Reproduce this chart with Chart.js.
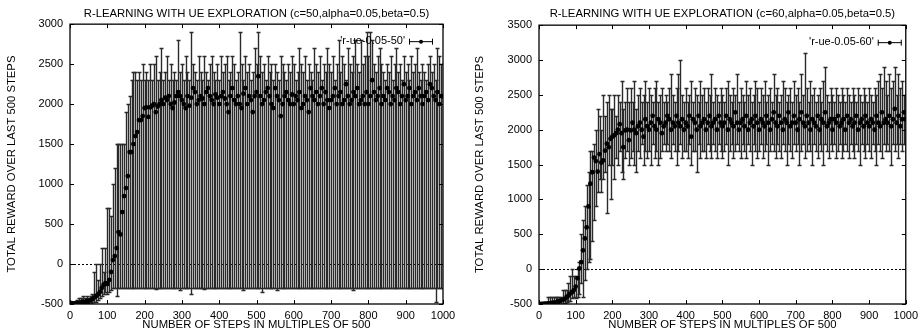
<!DOCTYPE html>
<html><head><meta charset="utf-8">
<script src="https://cdn.jsdelivr.net/npm/chart.js@4.4.0/dist/chart.umd.min.js"></script>
<style>
html,body{margin:0;padding:0;background:#fff;}
#wrap{position:relative;width:923px;height:335px;overflow:hidden;}
.c{position:absolute;top:0;height:335px;}
#cl{left:0;width:462px;} #cr{left:462px;width:461px;}
</style></head><body>
<div id="wrap"><div class="c" id="cl"><canvas id="left"></canvas></div><div class="c" id="cr"><canvas id="right"></canvas></div></div>
<script>
// x categories: steps in multiples of 500 (every 5th)
const steps = [];
for (let s = 5; s <= 1000; s += 5) steps.push(s);

const xTicks = [0,100,200,300,400,500,600,700,800,900,1000];
const leftYTicks = [-500,0,500,1000,1500,2000,2500,3000];
const rightYTicks = [-500,0,500,1000,1500,2000,2500,3000,3500];

const leftTitle = "R-LEARNING WITH UE EXPLORATION (c=50,alpha=0.05,beta=0.5)";
const rightTitle = "R-LEARNING WITH UE EXPLORATION (c=60,alpha=0.05,beta=0.5)";
const leftLabel = "'r-ue-0.05-50'";
const rightLabel = "'r-ue-0.05-60'";
const yTitle = "TOTAL REWARD OVER LAST 500 STEPS";
const xTitle = "NUMBER OF STEPS IN MULTIPLES OF 500";

const leftMean = [
-490,-495,-490,-485,-490,-480,-470,-480,-460,-470,-450,-440,
-420,-400,-380,-350,-300,-260,-240,
-250,-200,-100,50,100,200,400,370,650,850,950,1100,1400,1400,1500,1600,1650,1800,1800,1850,
1950,1960,1840,1960,1980,2000,1900,1970,2000,2050,
2000,2080,2050,2100,2000,1950,2020,2100,2150,2100,
2050,2000,1950,2100,1980,2080,2200,2150,2000,2050,
2100,2070,2000,2150,2200,2100,2050,2000,2120,2080,
2000,2100,2150,2070,2000,1900,2100,2200,2050,2000,
2100,2000,1950,2130,2200,2000,2100,2050,1900,2100,
2150,2350,2100,2000,2050,2150,2200,2100,2000,1950,
2200,2100,2050,1850,2000,2100,2150,2050,2000,2120,
2000,2100,2050,2150,1950,2000,2100,2050,1900,2200,
2100,2050,2150,2000,2100,2200,2000,2150,2050,1950,
2050,2100,2200,2000,2100,2150,2000,2050,2250,2100,
2000,2050,2150,2100,2200,2000,2050,2100,2000,2150,
2000,2100,2300,2150,2050,2100,2200,2000,2100,2050,
2200,2150,2000,2100,2050,2200,2150,2000,2100,2250,
2050,2100,2200,2000,2100,2150,2050,2200,2100,2000,
2100,2150,2050,2250,2200,2100,2050,2150,2000,2100,
2100];
const leftLow = [
-500,-500,-500,-500,-500,-500,-500,-500,-500,-500,-500,-500,
-480,-470,-450,-430,-400,-380,-350,
-380,-350,-330,-300,-300,-400,-300,-300,-300,-300,-300,-300,-300,-300,-300,-300,-300,-300,-300,-300,
-300,-300,-300,-300,-300,-300,-310,-300,-300,-300,
-300,-300,-300,-300,-300,-300,-300,-300,-300,-320,
-300,-300,-300,-300,-300,-380,-300,-300,-300,-300,
-300,-300,-310,-300,-300,-300,-300,-300,-300,-300,
-300,-300,-300,-300,-300,-300,-300,-300,-300,-300,
-300,-300,-300,-320,-300,-300,-300,-300,-300,-300,
-300,-300,-300,-350,-300,-300,-300,-300,-300,-300,
-300,-320,-300,-300,-300,-300,-300,-300,-300,-300,
-300,-300,-300,-300,-300,-300,-300,-300,-300,-300,
-300,-300,-300,-300,-300,-300,-300,-300,-300,-300,
-300,-300,-300,-300,-300,-300,-300,-300,-300,-300,
-300,-300,-320,-300,-300,-300,-300,-300,-300,-300,
-300,-300,-300,-300,-300,-300,-300,-300,-300,-300,
-300,-300,-300,-300,-300,-300,-300,-300,-300,-300,
-300,-300,-300,-300,-300,-300,-300,-300,-300,-300,
-300,-300,-300,-300,-300,-300,-470,-300,-300,-300,
-300];
const leftHigh = [
-480,-480,-470,-450,-420,-420,-400,-420,-400,-420,-400,-380,
-100,0,-200,0,200,-100,200,
700,700,600,1000,1200,1500,1500,1500,1500,1500,1900,2000,2100,2300,2400,2400,2300,2400,2300,2500,
2300,2400,2300,2500,2300,2500,2600,2300,2400,2700,
2300,2400,2600,2300,2500,2300,2400,2300,2800,2400,
2500,2300,2600,2400,2300,2900,2500,2400,2300,2600,
2400,2300,2600,2400,2300,2500,2600,2400,2300,2500,
2300,2600,2400,2500,2600,2300,2400,2600,2500,2300,
2400,2900,2500,2300,2600,2400,2500,2300,2400,2700,
2500,2900,2600,2400,2500,2300,2600,2400,2500,2300,
2500,2400,2300,2600,2500,2400,2300,2500,2400,2600,
2500,2300,2400,2700,2500,2400,2600,2300,2500,2400,
2300,2700,2500,2400,2600,2300,2500,2400,2700,2500,
2400,2600,2300,2500,2800,2400,2600,2500,2300,2700,
2500,2400,2600,2800,2500,2400,2800,2500,2600,2900,
2600,2900,2800,2500,2400,2600,2700,2500,2400,2300,
2500,2400,2600,2300,2500,2700,2400,2500,2300,2600,
2400,2500,2300,2600,2400,2500,2700,2400,2300,2500,
2400,2300,2500,2600,2400,2500,2300,2700,2600,2500,
2500];

const rightMean = [
-500,-500,-495,-495,-490,-490,-485,-480,-480,-470,-460,-450,
-440,-430,-400,-380,-350,-330,-300,
-250,-130,10,100,270,440,600,900,1225,1390,1600,1550,1400,1650,1530,1560,1700,1800,1750,1870,
1900,1920,1950,2000,2080,1950,1750,1990,2000,1850,
1990,2100,2000,1950,2050,2100,2000,1900,2150,2050,
2000,2100,2200,2050,2000,2150,2100,1950,2050,2100,
2200,2150,2000,2100,2050,2200,2100,2050,2150,2000,
2100,2050,2200,1900,2150,2100,2000,2200,2050,2100,
2150,2000,2100,2200,2050,2100,2150,2000,2200,2100,
2050,2100,2200,2000,2150,2100,2050,2250,2100,2000,
2100,2150,2050,2200,2000,2100,2150,2050,2200,2100,
2000,2150,2100,2050,2200,2100,2000,2150,2250,2100,
2050,2200,2100,2000,2150,2100,2250,2050,2100,2200,
2100,2000,2150,2250,2100,2050,2200,2100,2000,2150,
2100,2050,2200,2000,2150,2100,2250,2050,2100,2150,
2000,2150,2100,2200,2050,2100,2150,2000,2200,2100,
2150,2050,2100,2200,2000,2100,2150,2050,2200,2100,
2050,2150,2100,2000,2200,2100,2050,2250,2100,2150,
2100,2200,2050,2150,2300,2100,2200,2050,2150,2250,
2150];
const rightLow = [
-500,-500,-500,-500,-500,-500,-500,-500,-500,-500,-500,-500,
-500,-480,-470,-450,-450,-420,-400,
-420,-400,-350,-200,-400,-150,0,100,150,400,700,900,1100,1300,1100,1300,1400,800,1500,1000,
1500,1300,1600,1500,1700,1400,1300,1600,1700,1500,
1600,1700,1500,1400,1700,1600,1800,1500,1700,1600,
1700,1500,1800,1600,1700,1500,1600,1700,1800,1700,
1800,1700,1600,1800,1700,1500,1700,1800,1600,1700,
1700,1600,1800,1500,1700,1700,1400,1800,1600,1700,
1700,1600,1800,1700,1600,1800,1700,1600,1800,1700,
1600,1700,1800,1500,1700,1800,1600,1700,1800,1700,
1600,1800,1700,1600,1800,1700,1500,1800,1700,1600,
1700,1800,1600,1700,1800,1500,1700,1800,1700,1600,
1800,1700,1600,1800,1700,1500,1800,1700,1600,1800,
1700,1800,1500,1700,1800,1600,1700,1800,1700,1500,
1800,1700,1600,1800,1700,1500,1800,1700,1600,1800,
1700,1800,1600,1700,1800,1600,1700,1800,1700,1600,
1800,1700,1600,1800,1700,1500,1800,1700,1600,1800,
1700,1600,1800,1700,1500,1800,1700,1600,1800,1700,
1800,1700,1500,1800,1700,1800,1600,1800,1700,1800,
1800];
const rightHigh = [
-500,-500,-480,-480,-400,-400,-400,-400,-400,-400,-400,-400,
-300,-300,-300,-200,-100,0,-100,
-100,0,100,500,700,900,1200,1400,1700,1700,1800,2000,2300,2200,2000,2500,2200,2400,2500,2300,
2300,2500,2200,2500,2400,2700,2300,2400,2600,2400,
2600,2400,2700,2300,2500,2600,2400,2500,2700,2400,
2600,2500,2400,2600,2700,2400,2500,2600,2400,2500,
2400,2600,2800,2500,2400,2600,2800,3000,2500,2400,
2600,2400,2500,2700,2400,2600,2500,2400,2700,2500,
2600,2400,2600,2500,2800,2400,2600,2500,2400,2600,
2500,2400,2600,2700,2500,2400,2600,2500,2800,2400,
2600,2500,2400,2700,2500,2600,2400,2500,2700,2600,
2400,2600,2500,2700,2400,2500,2600,2400,2800,2500,
2600,2400,2500,2700,2600,2400,2500,2600,2400,2700,
2500,2600,2400,2800,2500,3100,2600,2400,2700,2500,
2600,2400,2500,2600,2400,2700,2900,2500,2400,2600,
2500,2400,2600,2500,2400,2600,2500,2400,2600,2500,
2400,2600,2500,2400,2600,2500,2400,2600,2500,2400,
2600,2500,2400,2600,2500,2700,2800,2600,2900,2700,
2500,2800,2600,2700,2900,2500,2800,2600,2700,2500,
2500];

const FONT = "'Liberation Sans', Arial, Helvetica, sans-serif";

function legendSymbolDraw(ctx, xr, yc) {
  const x1 = xr - 24, x2 = xr, xm = xr - 12;
  ctx.strokeStyle = '#000'; ctx.lineWidth = 1;
  ctx.beginPath();
  ctx.moveTo(x1, yc + 0.5); ctx.lineTo(x2, yc + 0.5);
  ctx.moveTo(x1 + 0.5, yc - 2.5); ctx.lineTo(x1 + 0.5, yc + 3.5);
  ctx.moveTo(x2 - 0.5, yc - 2.5); ctx.lineTo(x2 - 0.5, yc + 3.5);
  ctx.stroke();
  ctx.fillStyle = '#000';
  ctx.beginPath(); ctx.arc(xm, yc + 0.5, 2, 0, Math.PI * 2); ctx.fill();
}

const errorBarPlugin = {
  id: 'errorBarPlugin',
  beforeDatasetsDraw(chart) {
    const {ctx, chartArea: a, scales: {x, y}} = chart;
    ctx.save();
    ctx.beginPath(); ctx.rect(a.left, a.top, a.right - a.left, a.bottom - a.top); ctx.clip();
    const y0 = Math.round(y.getPixelForValue(0)) + 0.5;
    ctx.strokeStyle = '#000'; ctx.lineWidth = 1; ctx.setLineDash([2, 2]);
    ctx.beginPath(); ctx.moveTo(a.left, y0); ctx.lineTo(a.right, y0); ctx.stroke();
    ctx.setLineDash([]);
    chart.data.datasets.forEach(ds => {
      ctx.strokeStyle = ds.errColor; ctx.lineWidth = 1.4;
      ds.data.forEach((p, i) => {
        const px = Math.round(x.getPixelForValue(p.x)) + 0.5;
        const lo = Math.round(y.getPixelForValue(ds.errLow[i])) + 0.5;
        const hi = Math.round(y.getPixelForValue(ds.errHigh[i])) + 0.5;
        ctx.beginPath();
        ctx.moveTo(px, lo); ctx.lineTo(px, hi);
        ctx.moveTo(px - 2, lo); ctx.lineTo(px + 2, lo);
        ctx.moveTo(px - 2, hi); ctx.lineTo(px + 2, hi);
        ctx.stroke();
      });
    });
    ctx.restore();
  },
  afterDraw(chart) {
    const {ctx, chartArea: a, scales: {x, y}} = chart;
    const o = chart.options.plugins.errorBarPlugin;
    ctx.save();
    ctx.strokeStyle = '#000'; ctx.lineWidth = 1.3;
    ctx.strokeRect(a.left, a.top, a.right - a.left, a.bottom - a.top);
    ctx.lineWidth = 1;
    ctx.beginPath();
    x.ticks.forEach(t => {
      const px = Math.round(x.getPixelForValue(t.value)) + 0.5;
      ctx.moveTo(px, a.bottom); ctx.lineTo(px, a.bottom - 4);
      ctx.moveTo(px, a.top); ctx.lineTo(px, a.top + 4);
    });
    y.ticks.forEach(t => {
      const py = Math.round(y.getPixelForValue(t.value)) + 0.5;
      ctx.moveTo(a.left, py); ctx.lineTo(a.left + 4, py);
      ctx.moveTo(a.right, py); ctx.lineTo(a.right - 4, py);
    });
    ctx.stroke();
    // key
    const yc = a.top + 17;
    const xr = a.right - o.keyInset;
    ctx.font = '11px ' + FONT;
    ctx.fillStyle = '#000'; ctx.textAlign = 'right'; ctx.textBaseline = 'middle';
    ctx.fillText(o.label, xr - 28, yc);
    legendSymbolDraw(ctx, xr, yc);
    ctx.restore();
  }
};

const plain = v => String(v);

function makeChart(id, cfg) {
  const data = steps.map((s, i) => ({x: s, y: cfg.mean[i]}));
  return new Chart(document.getElementById(id), {
    type: 'scatter',
    data: {datasets: [{
      label: cfg.label,
      data: data,
      errLow: cfg.low, errHigh: cfg.high, errColor: '#2a2a2a',
      pointRadius: 2.4, pointHoverRadius: 2.4,
      pointBackgroundColor: '#000', pointBorderWidth: 0, borderColor: '#000'
    }]},
    options: {
      responsive: true, maintainAspectRatio: false, animation: false,
      events: [],
      layout: {padding: {left: 0, right: cfg.padRight, top: 0, bottom: 0}},
      plugins: {
        legend: {display: false},
        tooltip: {enabled: false},
        title: {display: true, text: cfg.title, fullSize: false, color: '#000',
          font: {family: FONT, size: 11.3, weight: 'normal'},
          padding: {top: 7, bottom: cfg.titlePadBottom}},
        errorBarPlugin: {label: cfg.label, keyInset: cfg.keyInset}
      },
      scales: {
        x: {type: 'linear', min: 0, max: 1000,
          afterBuildTicks: s => { s.ticks = xTicks.map(v => ({value: v})); },
          afterFit: s => { s.height = 31; },
          grid: {display: false, drawTicks: false}, border: {display: false},
          ticks: {color: '#000', padding: 5, maxRotation: 0, callback: plain, font: {family: FONT, size: 11}},
          title: {display: true, text: xTitle, color: '#000', padding: {top: 0, bottom: 3},
            font: {family: FONT, size: 11.3}}
        },
        y: {type: 'linear', min: -500, max: cfg.ymax,
          afterBuildTicks: s => { s.ticks = cfg.yTicks.map(v => ({value: v})); },
          afterFit: s => { s.width = cfg.yWidth; },
          grid: {display: false, drawTicks: false}, border: {display: false},
          ticks: {color: '#000', padding: 7, callback: plain, font: {family: FONT, size: 11}},
          title: {display: true, text: yTitle, color: '#000', padding: {top: cfg.yTitlePad, bottom: 0},
            font: {family: FONT, size: 11.3}}
        }
      }
    },
    plugins: [errorBarPlugin]
  });
}

makeChart('left', {mean: leftMean, low: leftLow, high: leftHigh, label: leftLabel, title: leftTitle,
  ymax: 3000, yTicks: leftYTicks, yWidth: 70, padRight: 19, titlePadBottom: 3.6, yTitlePad: 5.2, keyInset: 10});
makeChart('right', {mean: rightMean, low: rightLow, high: rightHigh, label: rightLabel, title: rightTitle,
  ymax: 3500, yTicks: rightYTicks, yWidth: 77, padRight: 14, titlePadBottom: 4.6, yTitlePad: 11.2, keyInset: 4});
</script>
</body></html>
